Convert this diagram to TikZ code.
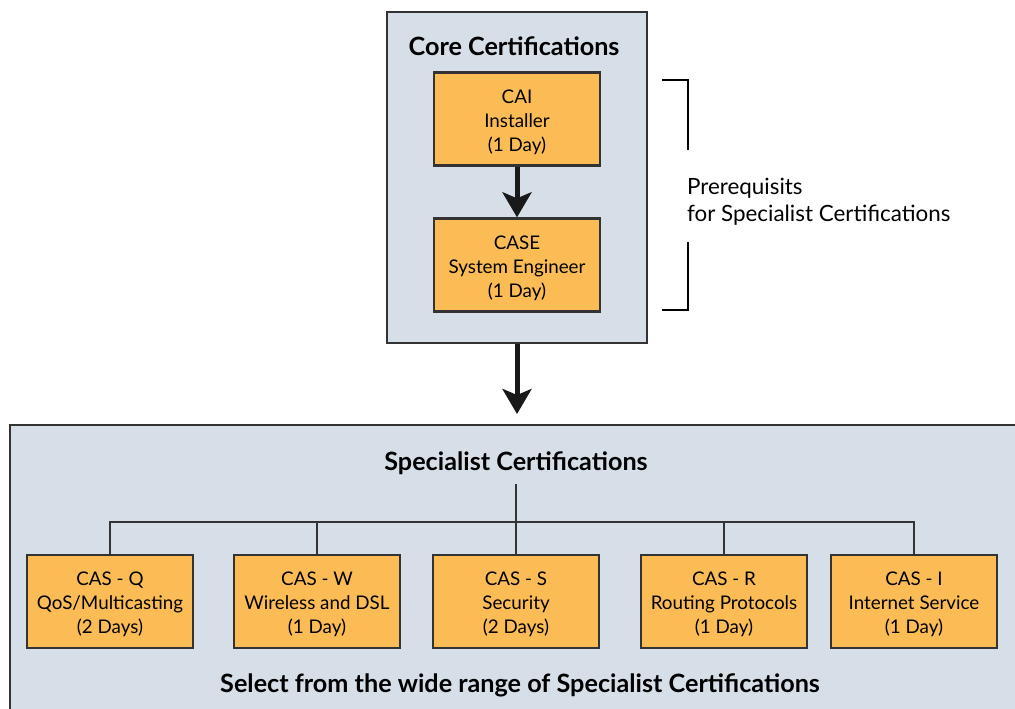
\documentclass[tikz,border=0pt]{standalone}
\usepackage{fontspec}
\setmainfont{Lato}
\usetikzlibrary{arrows.meta, positioning}
\definecolor{panelblue}{HTML}{D6DEE7}
\definecolor{certorange}{HTML}{FBBC55}
\definecolor{edgegray}{HTML}{333333}
\tikzset{
    panel/.style={draw=edgegray, line width=1pt, fill=panelblue},
    cert/.style={draw=edgegray, line width=1.2pt, fill=certorange, minimum width=83pt,
        minimum height=46.5pt, align=center, font=\fontsize{9.4}{12}\selectfont, inner sep=0pt},
    title/.style={font=\fontsize{12.6}{15}\selectfont\bfseries},
    bigarrow/.style={-{Stealth[length=12.5pt, width=14.5pt, inset=3pt]}, line width=2.5pt, draw=black!90},
    tree/.style={line width=1pt, draw=edgegray},
}
\newcommand{\certtext}[3]{\raisebox{-1.6pt}[\height][\depth]{\begin{tabular}{@{}c@{}}#1\\#2\\#3\end{tabular}}}

\begin{document}
\begin{tikzpicture}[x=0.5pt, y=-0.5pt]
    \useasboundingbox (0,0) rectangle (1015,708);
    % panels
    \node [panel, minimum width=130pt, minimum height=165.5pt, inner sep=0pt] (core) at (517,177.5) {};
    \draw [panel] (10,425) rectangle (1030,730);
    % core certifications
    \node [title] (coretitle) at (514,46) {Core Certifications};
    \node [cert] (cai) at (517,119) {\certtext{CAI}{Installer}{(1 Day)}};
    \node [cert] (case) at (517,265) {\certtext{CASE}{System Engineer}{(1 Day)}};
    \draw [bigarrow] (cai) -- (case);
    % prerequisites bracket
    \coordinate (brtop) at (662,80);
    \coordinate (brbot) at (662,310);
    \draw [line width=0.6pt] (brtop) -- ++(26,0) -- ++(0,70);
    \draw [line width=0.6pt] (brbot) -- ++(26,0) -- ++(0,-68);
    \node [anchor=west, align=left, font=\fontsize{11.2}{13.5}\selectfont] (prereq) at (680,202)
        {Prerequisits\\for Specialist Certifications};
    % to specialists
    \node [title] (spectitle) at (516,463) {Specialist Certifications};
    \draw [bigarrow] (core.south) -- ++(0,70);
    \node [cert] (casQ) at (110,601.5) {\certtext{CAS - Q}{QoS/Multicasting}{(2 Days)}};
    \node [cert] (casW) at (317,601.5) {\certtext{CAS - W}{Wireless and DSL}{(1 Day)}};
    \node [cert] (casS) at (516,601.5) {\certtext{CAS - S}{Security}{(2 Days)}};
    \node [cert] (casR) at (724,601.5) {\certtext{CAS - R}{Routing Protocols}{(1 Day)}};
    \node [cert] (casI) at (914,601.5) {\certtext{CAS - I}{Internet Service}{(1 Day)}};
    \coordinate (bar) at (516,522);
    \draw [tree] (516,484) -- (casS.north);
    \draw [tree] (casQ.north) |- (bar) -| (casI.north);
    \foreach \c in {casW, casR}
        \draw [tree] (\c.north) -- (\c.north |- bar);
    \node [title] (select) at (520,685) {Select from the wide range of Specialist Certifications};
\end{tikzpicture}
\end{document}
